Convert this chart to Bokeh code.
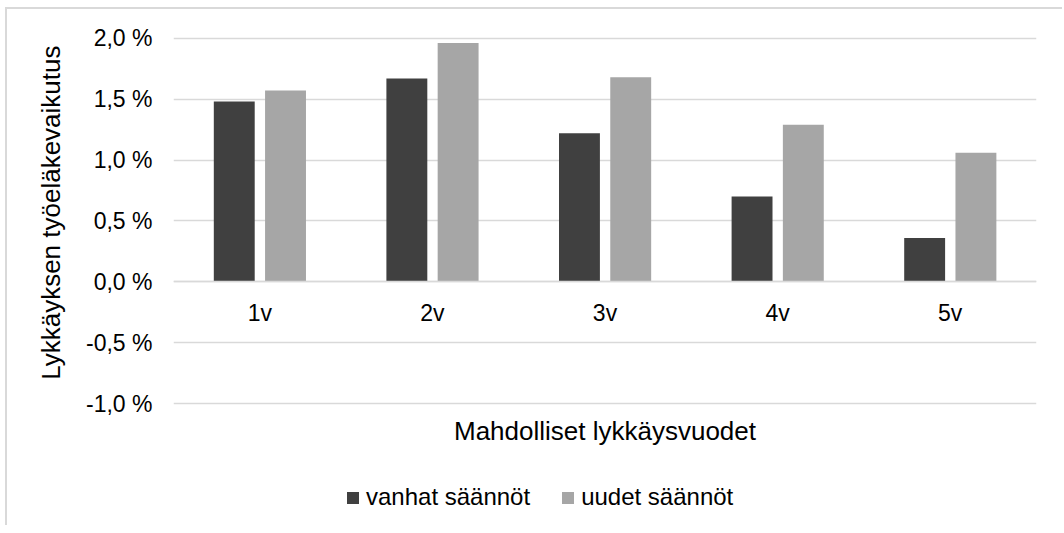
from bokeh.plotting import figure
from bokeh.models import (FactorRange, Range1d, FixedTicker, CustomJSTickFormatter,
                          Legend, LegendItem, Title, Label, ColumnDataSource)
from bokeh.transform import dodge
from bokeh.embed import file_html
from bokeh.resources import INLINE

categories = ["1v", "2v", "3v", "4v", "5v"]
vanhat = [1.48, 1.67, 1.22, 0.70, 0.36]
uudet = [1.57, 1.96, 1.68, 1.29, 1.06]
y_ticks = [-1.0, -0.5, 0.0, 0.5, 1.0, 1.5, 2.0]
y_tick_labels = ["-1,0 %", "-0,5 %", "0,0 %", "0,5 %", "1,0 %", "1,5 %", "2,0 %"]
series_names = ["vanhat säännöt", "uudet säännöt"]
y_title = "Lykkäyksen työeläkevaikutus"
x_title = "Mahdolliset lykkäysvuodet"

FONT = "Liberation Sans"
DARK = "#404040"
LIGHT = "#a6a6a6"
GRID = "#d9d9d9"

source = ColumnDataSource(dict(cat=categories, vanhat=vanhat, uudet=uudet))

# The frame reaches down to the canvas bottom so that the axis title and the
# legend (drawn inside the frame, below the lowest grid line) are not clipped.
p = figure(x_range=FactorRange(*categories, range_padding=0),
           y_range=Range1d(-1.999, 2.014),
           frame_width=863, frame_height=489,
           min_border_left=166, min_border_right=26, min_border_top=27,
           min_border_bottom=0,
           output_backend="svg", toolbar_location=None)
p.styles = {"border-left": "2px solid #d9d9d9", "border-top": "2px solid #d9d9d9",
            "margin-left": "5px", "margin-top": "7px"}

p.outline_line_color = None
p.background_fill_color = "white"
p.border_fill_color = "white"

r1 = p.vbar(x=dodge("cat", -0.148, range=p.x_range), top="vanhat", width=0.237,
            source=source, fill_color=DARK, line_color=None)
r2 = p.vbar(x=dodge("cat", 0.149, range=p.x_range), top="uudet", width=0.237,
            source=source, fill_color=LIGHT, line_color=None)

# grid
p.xgrid.grid_line_color = None
p.ygrid.grid_line_color = GRID
p.ygrid.grid_line_width = 1.5
p.ygrid.ticker = FixedTicker(ticks=y_ticks)

# y axis
p.yaxis.ticker = FixedTicker(ticks=y_ticks)
p.yaxis.formatter = CustomJSTickFormatter(args=dict(tvals=y_ticks, tlabels=y_tick_labels), code="""
const i = tvals.findIndex(t => Math.abs(t - tick) < 1e-9);
return i >= 0 ? tlabels[i] : '';
""")
p.yaxis.axis_line_color = None
p.yaxis.major_tick_line_color = None
p.yaxis.minor_tick_line_color = None
p.yaxis.major_tick_out = 0
p.yaxis.major_label_standoff = 21
p.yaxis.major_label_text_font = FONT
p.yaxis.major_label_text_font_size = "23px"
p.yaxis.major_label_text_color = "black"

# y title (aligned to the top of the gridded part of the plot)
p.add_layout(Title(text=y_title, align="right", offset=9, standoff=36,
                   text_font=FONT, text_font_size="26px", text_font_style="normal",
                   text_color="black"), "left")

# x axis at zero
p.xaxis.fixed_location = 0
p.xaxis.axis_line_color = GRID
p.xaxis.axis_line_width = 1.5
p.xaxis.major_tick_line_color = None
p.xaxis.minor_tick_line_color = None
p.xaxis.major_tick_out = 0
p.xaxis.major_label_standoff = 18
p.xaxis.major_label_text_font = FONT
p.xaxis.major_label_text_font_size = "23px"
p.xaxis.major_label_text_color = "black"

# x title
p.add_layout(Label(x=431.5, y=95, x_units="screen", y_units="screen", text=x_title,
                   text_align="center", text_baseline="middle", text_font=FONT,
                   text_font_size="26px", text_color="black"))

legend = Legend(items=[LegendItem(label=series_names[0], renderers=[r1]),
                       LegendItem(label=series_names[1], renderers=[r2])],
                orientation="horizontal", location=(172, 14),
                label_text_font=FONT, label_text_font_size="24px", label_text_color="black",
                glyph_width=15, glyph_height=15, label_standoff=6, spacing=30,
                border_line_color=None, background_fill_alpha=0, padding=0, margin=0)
p.add_layout(legend, "center")

open("out.html", "w").write(file_html(p, INLINE))
